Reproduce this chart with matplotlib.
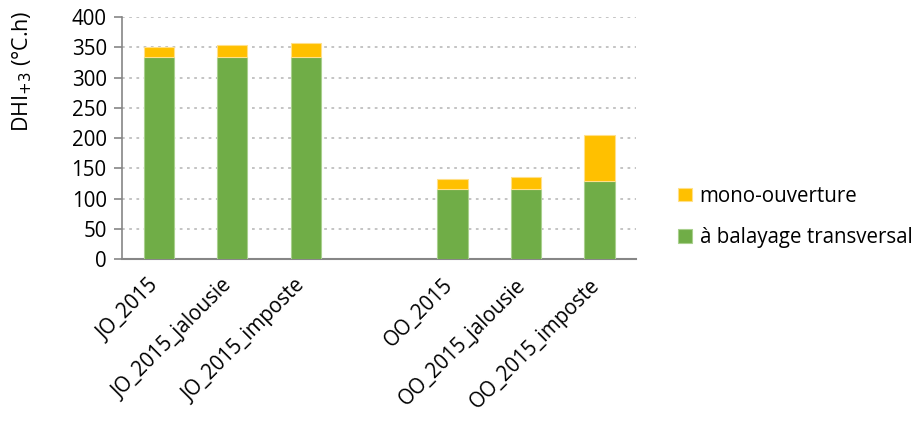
import matplotlib.pyplot as plt
import matplotlib.transforms as mtransforms
import numpy as np

plt.rcParams["font.family"] = ["Open Sans", "DejaVu Sans"]

categories = ["JO_2015", "JO_2015_jalousie", "JO_2015_imposte", "",
              "OO_2015", "OO_2015_jalousie", "OO_2015_imposte"]
balayage = [334, 334, 335, 0, 115, 115, 129]
mono = [16, 20, 22, 0, 18, 21, 76]

green = "#70AD47"
orange = "#FFC000"
fs = 14.8

fig = plt.figure(figsize=(9.15, 4.21), dpi=100)
ax = fig.add_axes([0.1333, 0.385, 0.562, 0.574])

x = np.arange(len(categories))
mask = [c != "" for c in categories]
xs = x[mask]
b = np.array(balayage)[mask]
m = np.array(mono)[mask]

ax.bar(xs, b, width=0.41, color=green, edgecolor="#A9D08E", linewidth=0.8,
       label="à balayage transversal", zorder=3)
ax.bar(xs, m, width=0.41, bottom=b, color=orange, edgecolor="#FFE08A",
       linewidth=0.8, label="mono-ouverture", zorder=3)

ax.set_xlim(-0.5, len(categories) - 0.5)
ax.set_ylim(0, 400)
ax.set_yticks(range(0, 401, 50))
ax.yaxis.grid(True, color="#BFBFBF", linestyle=(0, (1.5, 2.5)), linewidth=1.3, zorder=0)

ax.set_xticks(xs)
ax.set_xticklabels([c for c in categories if c], rotation=45, ha="right",
                   va="center", rotation_mode="anchor", fontsize=fs)
ax.tick_params(axis="x", length=0, pad=17)
shift = mtransforms.ScaledTranslation(-3 / 100, 0, fig.dpi_scale_trans)
for lab in ax.get_xticklabels():
    lab.set_transform(lab.get_transform() + shift)
ax.tick_params(axis="y", labelsize=fs, length=6, width=1.2, color="#868686", pad=5)

for side in ["top", "right"]:
    ax.spines[side].set_visible(False)
ax.spines["left"].set_color("#868686")
ax.spines["bottom"].set_color("#868686")
ax.spines["left"].set_linewidth(1.2)
ax.spines["bottom"].set_linewidth(1.5)

fig.text(22 / 915, 1 - 71 / 421, "DHI$_{+3}$ (°C.h)", rotation=90,
         ha="center", va="center", fontsize=15.5)

handles, labels = ax.get_legend_handles_labels()
fig.legend(handles[::-1], labels[::-1], loc="center left",
           bbox_to_anchor=(678 / 915, 1 - 217 / 421), frameon=False, fontsize=fs,
           borderpad=0, borderaxespad=0,
           handlelength=0.7, handleheight=0.65, handletextpad=0.35,
           labelspacing=1.0)

fig.savefig("out.png", dpi=100)
